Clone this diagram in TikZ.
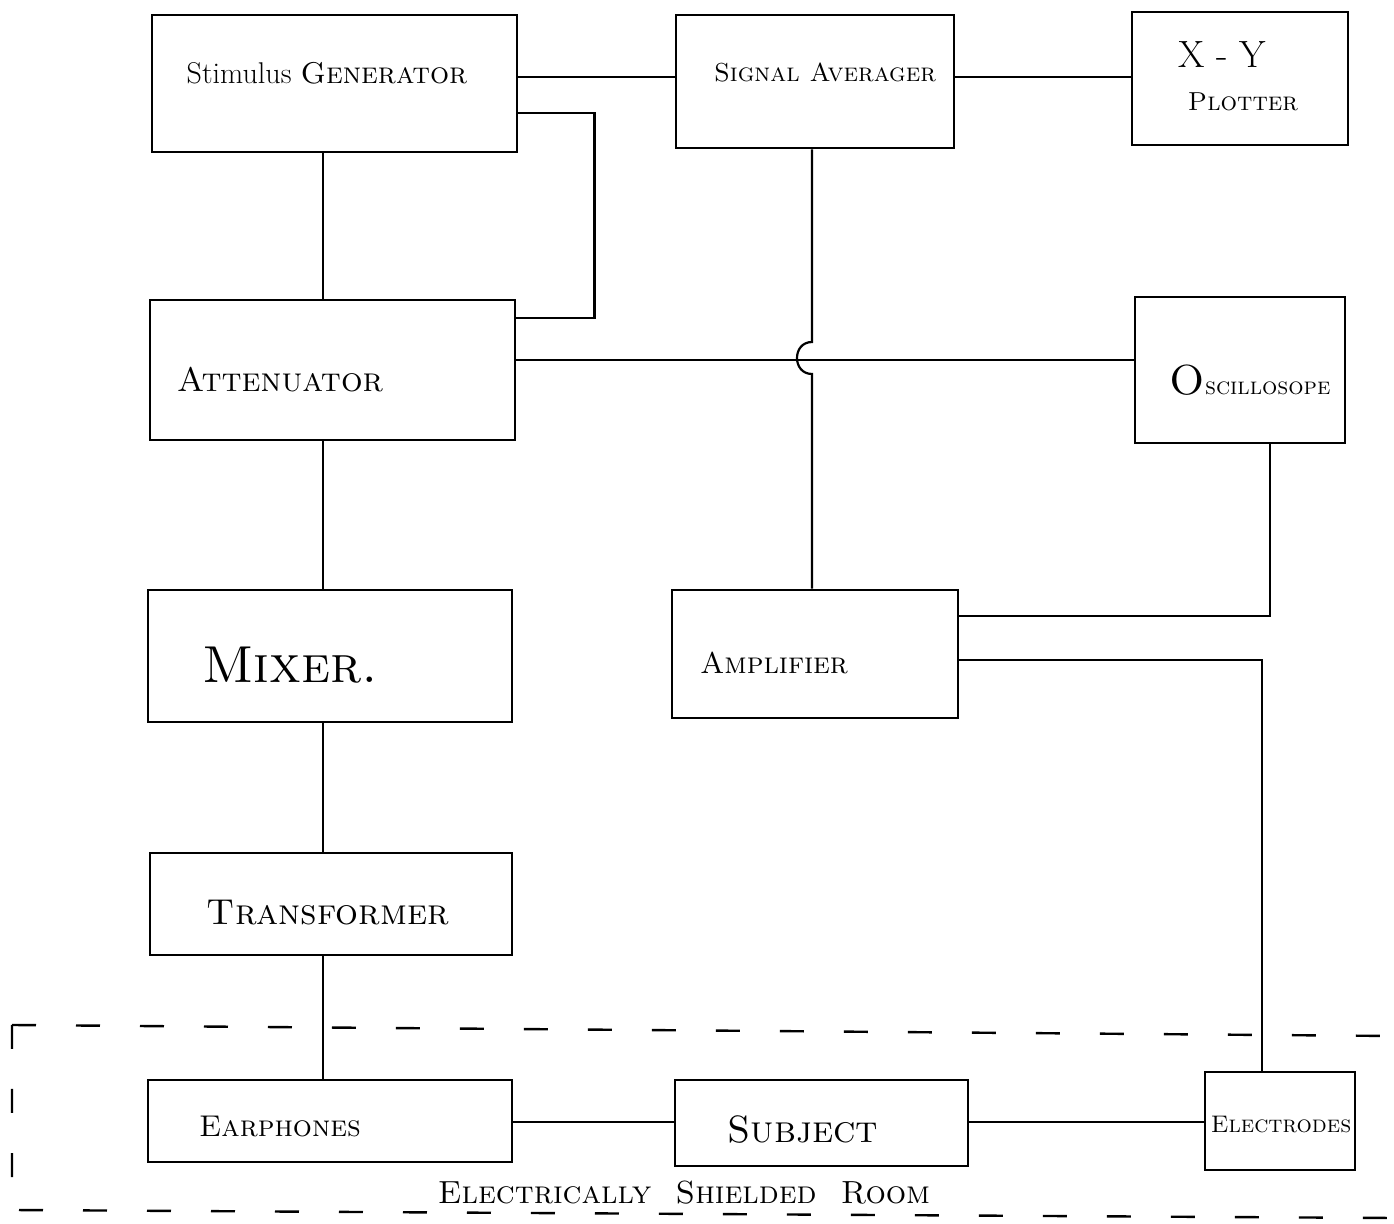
\documentclass[tikz,border=0pt]{standalone}
\begin{document}
\begin{tikzpicture}[x=0.5pt,y=-0.5pt]
\tikzset{
  box/.style={draw, line width=1.4pt, inner sep=0pt},
  wire/.style={line width=1.1pt},
  txt/.style={font=\fontsize{15}{18}\selectfont\scshape, inner sep=0pt},
  room/.style={line width=1.2pt, dash pattern=on 12pt off 20pt},
}
\useasboundingbox (0,0) rectangle (1394,1224);
% boxes
\node[box, minimum width=182.5pt, minimum height=68.5pt] (sg) at (334.5,83.5) {};
\node[box, minimum width=139pt, minimum height=66.5pt] (sa) at (815,81.5) {};
\node[box, minimum width=108pt, minimum height=66.5pt] (xy) at (1240,78.5) {};
\node[box, minimum width=182.5pt, minimum height=70pt] (att) at (332.5,370) {};
\node[box, minimum width=105pt, minimum height=73pt] (osc) at (1240,370) {};
\node[box, minimum width=182pt, minimum height=66pt] (mix) at (330,656) {};
\node[box, minimum width=143pt, minimum height=64pt] (amp) at (815,654) {};
\node[box, minimum width=181pt, minimum height=51pt] (tr) at (331,904) {};
\node[box, minimum width=182pt, minimum height=41pt] (ear) at (330,1121) {};
\node[box, minimum width=146.5pt, minimum height=43pt] (sub) at (821.5,1123) {};
\node[box, minimum width=75pt, minimum height=49pt] (el) at (1280,1121) {};
% labels
\node[txt] (sgL) at (327,73) {\upshape Stimulus \scshape Generator};
\node[txt, font=\fontsize{13}{16}\selectfont\scshape] (saL) at (825,72) {Signal Averager};
\node[txt, font=\fontsize{19}{22}\selectfont] (xyL) at (1222,55) {X - Y};
\node[txt, font=\fontsize{13}{15}\selectfont\scshape] (plL) at (1243,102) {Plotter};
\node[txt, font=\fontsize{17}{20}\selectfont\scshape] (attL) at (280,380) {Attenuator};
\node[txt, font=\fontsize{12}{15}\selectfont\scshape] (oscL) at (1250,380) {{\fontsize{21}{24}\selectfont O}scillosope};
\node[txt, font=\fontsize{26}{30}\selectfont\scshape] (mixL) at (290,665) {Mixer.};
\node[txt] (ampL) at (774,663) {Amplifier};
\node[txt, font=\fontsize{18}{21}\selectfont\scshape] (trL) at (328,913) {Transformer};
\node[txt] (earL) at (280,1127) {Earphones};
\node[txt, font=\fontsize{19}{22}\selectfont\scshape] (subL) at (803,1130) {Subject};
\node[txt, font=\fontsize{12}{14}\selectfont\scshape] (elL) at (1281,1125) {Electrodes};
\node[txt, font=\fontsize{16}{19}\selectfont\scshape] (roomL) at (684,1193) {Electrically\ \ Shielded\ \ Room};
% connectors
\draw[wire] (sg.east |- 0,77) -- (sa.west |- 0,77);
\draw[wire] (sa.east |- 0,77) -- (xy.west |- 0,77);
\draw[wire] (sg.east |- 0,113) -- ++(76,0) |- (att.east |- 0,318);
\draw[wire] (sg.south -| 323,0) -- (att.north -| 323,0);
\draw[wire] (att.south -| 323,0) -- (mix.north -| 323,0);
\draw[wire] (mix.south -| 323,0) -- (tr.north -| 323,0);
\draw[wire] (tr.south -| 323,0) -- (ear.north -| 323,0);
\draw[wire] (att.east |- 0,360) -- (osc.west |- 0,360);
\draw[wire] (sa.south -| 812,0) -- (812,342) .. controls (792,342) and (792,374) .. (812,374) -- (amp.north -| 812,0);
\draw[wire] (osc.south -| 1270,0) |- (amp.east |- 0,616);
\draw[wire] (amp.east |- 0,660) -| (el.north -| 1262,0);
\draw[wire] (ear.east |- 0,1122) -- (sub.west |- 0,1122);
\draw[wire] (sub.east |- 0,1122) -- (el.west |- 0,1122);
% shielded room
\draw[room] (12,1025) -- (1394,1036);
\draw[room] (12,1025) -- (12,1210) -- (1394,1218);
\end{tikzpicture}
\end{document}
